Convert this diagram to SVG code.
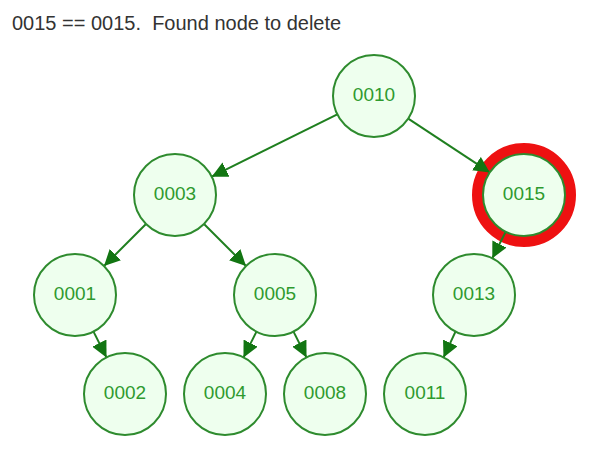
<svg xmlns="http://www.w3.org/2000/svg" width="598" height="450" viewBox="0 0 598 450">
  <style>
    .title { font-family: "Liberation Sans", Arial, sans-serif; font-size: 20px; fill: #333333; white-space: pre; }
    .node circle { fill: #eeffee; stroke: #2e8b2e; stroke-width: 2; }
    .node text { font-family: "Liberation Sans", Arial, sans-serif; font-size: 19px; fill: #2e9a2e; text-anchor: middle; }
    .edge { stroke: #1f7f1f; stroke-width: 2; fill: none; marker-end: url(#arrow); }
    .highlight { fill: none; stroke: #ee1111; stroke-width: 11; }
  </style>
  <defs>
    <marker id="arrow" viewBox="0 0 12 12" refX="12" refY="6" markerWidth="16" markerHeight="16" markerUnits="userSpaceOnUse" orient="auto">
      <path d="M0,0 L12,6 L0,12 z" fill="#127512"/>
    </marker>
  </defs>
  <rect width="598" height="450" fill="#ffffff"/>
  <text class="title" x="12" y="30" xml:space="preserve">0015 == 0015.  Found node to delete</text>

  <circle class="highlight" cx="524" cy="195" r="46.5"/>

  <g id="connectors">
    <line class="edge" x1="337.3" y1="114.3" x2="211.7" y2="176.7"/>
    <line class="edge" x1="408.2" y1="118.6" x2="489.8" y2="172.4"/>
    <line class="edge" x1="146.0" y1="224.0" x2="104.0" y2="266.0"/>
    <line class="edge" x1="204.0" y1="224.0" x2="246.0" y2="266.0"/>
    <line class="edge" x1="505.7" y1="231.7" x2="492.3" y2="258.3"/>
    <line class="edge" x1="93.5" y1="331.6" x2="106.5" y2="357.4"/>
    <line class="edge" x1="256.5" y1="331.6" x2="243.5" y2="357.4"/>
    <line class="edge" x1="293.5" y1="331.6" x2="306.5" y2="357.4"/>
    <line class="edge" x1="455.5" y1="331.6" x2="443.5" y2="357.4"/>
  </g>

  <g id="node-0010" class="node"><circle cx="374" cy="96" r="41"/><text x="374" y="100.5">0010</text></g>
  <g id="node-0003" class="node"><circle cx="175" cy="195" r="41"/><text x="175" y="199.5">0003</text></g>
  <g id="node-0015" class="node"><circle cx="524" cy="195" r="41"/><text x="524" y="199.5">0015</text></g>
  <g id="node-0001" class="node"><circle cx="75" cy="295" r="41"/><text x="75" y="299.5">0001</text></g>
  <g id="node-0005" class="node"><circle cx="275" cy="295" r="41"/><text x="275" y="299.5">0005</text></g>
  <g id="node-0013" class="node"><circle cx="474" cy="295" r="41"/><text x="474" y="299.5">0013</text></g>
  <g id="node-0002" class="node"><circle cx="125" cy="394" r="41"/><text x="125" y="398.5">0002</text></g>
  <g id="node-0004" class="node"><circle cx="225" cy="394" r="41"/><text x="225" y="398.5">0004</text></g>
  <g id="node-0008" class="node"><circle cx="325" cy="394" r="41"/><text x="325" y="398.5">0008</text></g>
  <g id="node-0011" class="node"><circle cx="425" cy="394" r="41"/><text x="425" y="398.5">0011</text></g>
</svg>
